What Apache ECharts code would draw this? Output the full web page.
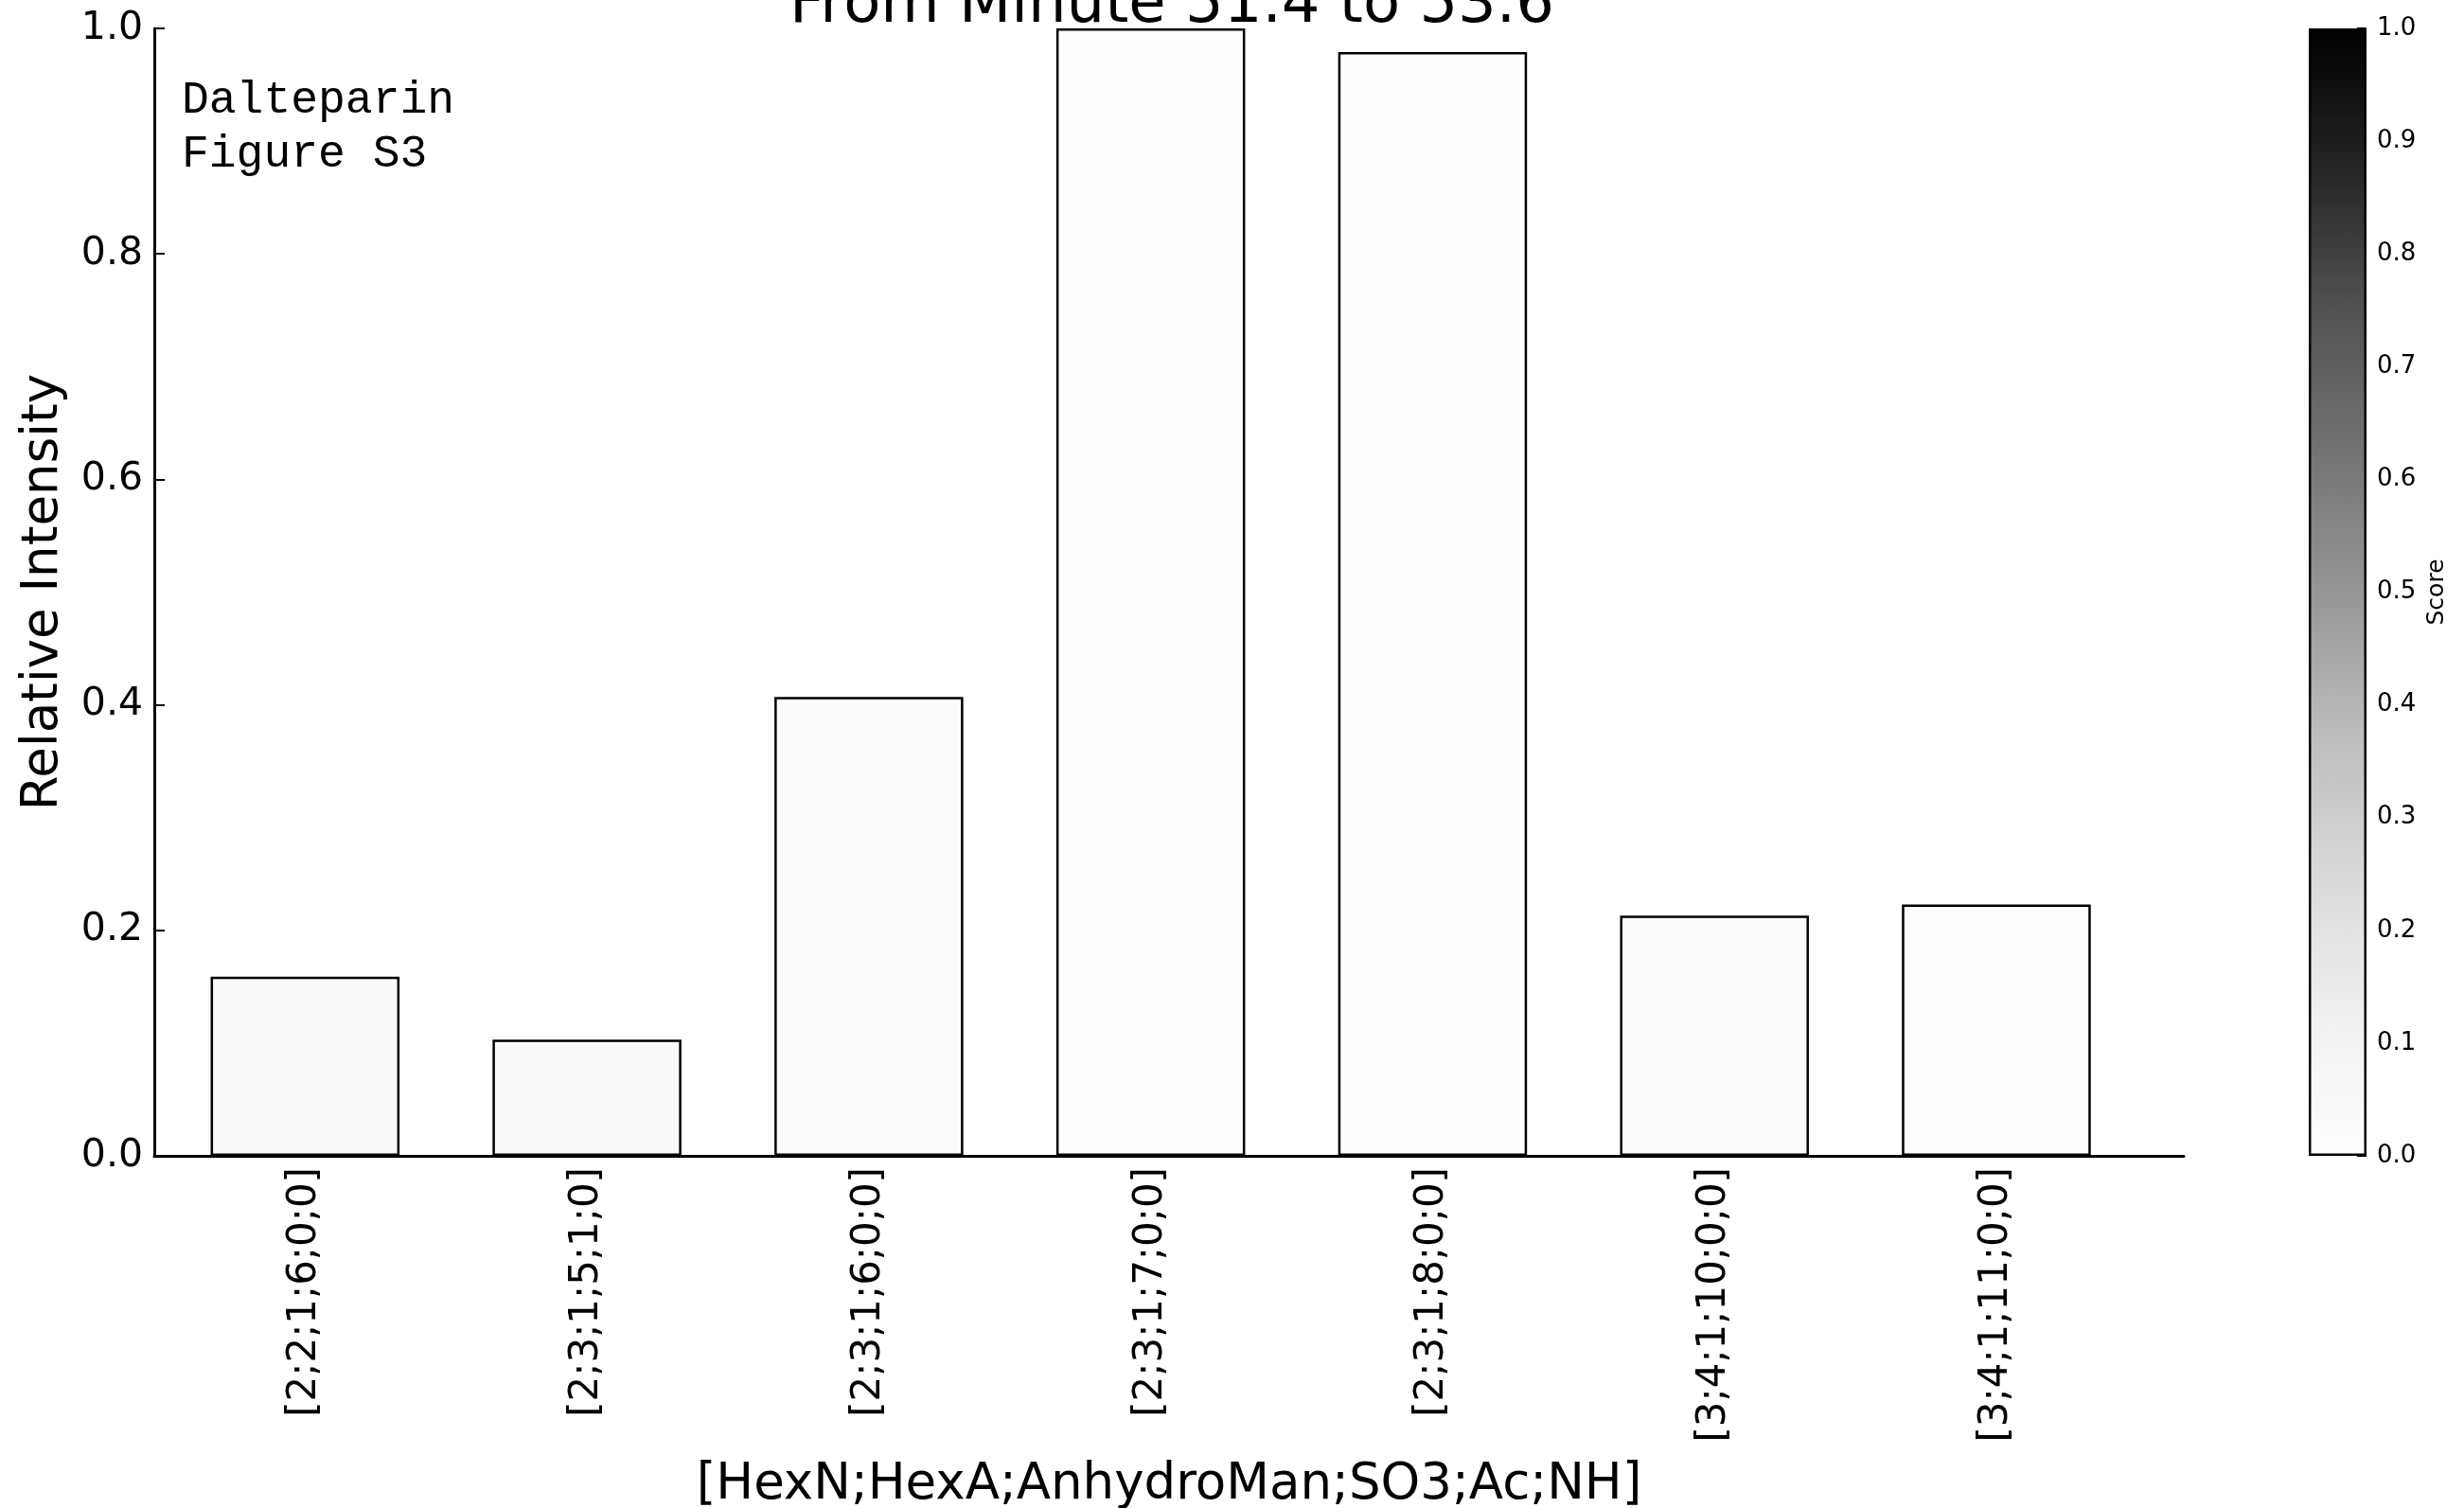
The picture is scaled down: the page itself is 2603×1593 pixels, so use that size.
<!DOCTYPE html>
<html>
<head>
<meta charset="utf-8">
<title>From Minute 51.4 to 53.6</title>
<script src="https://cdn.jsdelivr.net/npm/echarts@6/dist/echarts.min.js"></script>
<style>
  html, body { margin: 0; padding: 0; background: #ffffff; }
  #chart { width: 2603px; height: 1593px; }
</style>
</head>
<body>
<div id="chart"></div>
<script>
// Composition labels [HexN;HexA;AnhydroMan;SO3;Ac;NH]
const categories = [
  '[2;2;1;6;0;0]', '[2;3;1;5;1;0]', '[2;3;1;6;0;0]', '[2;3;1;7;0;0]',
  '[2;3;1;8;0;0]', '[3;4;1;10;0;0]', '[3;4;1;11;0;0]'
];
// Relative intensity of each composition
const intensity = [0.159, 0.103, 0.407, 1.0, 0.979, 0.213, 0.223];
// Score of each composition (drives the bar shade)
const score = [0.045, 0.045, 0.03, 0.01, 0.01, 0.025, 0.015];
// Colour scale ticks
const scoreTicks = [0, 0.1, 0.2, 0.3, 0.4, 0.5, 0.6, 0.7, 0.8, 0.9, 1.0];
const titleText = 'From Minute 51.4 to 53.6';
const noteLines = ['Dalteparin', 'Figure S3'];

// Greys colour ramp, low score = white, high score = black
const greys = ['#ffffff', '#f0f0f0', '#d9d9d9', '#bdbdbd', '#969696',
               '#737373', '#525252', '#252525', '#000000'];

// Each bar occupies [i, i + BAR_W] on the x scale; labels sit at the bar centre
const BAR_W = 0.67;
const center = i => i + BAR_W / 2;
const barRows = categories.map((c, i) => [center(i), intensity[i], score[i]]);
const labelPositions = categories.map((c, i) => center(i));

const FONT = 'DejaVu Sans';
const chart = echarts.init(document.getElementById('chart'), null, { renderer: 'canvas' });

const gradStops = greys.map((c, k) => ({ offset: 1 - k / (greys.length - 1), color: c }));

chart.setOption({
  animation: false,
  backgroundColor: '#ffffff',
  title: {
    text: titleText,
    left: 1233,
    textAlign: 'center',
    top: -31,
    textStyle: { fontFamily: FONT, fontSize: 64, fontWeight: 'normal', color: '#000' }
  },
  graphic: [{
    type: 'text',
    left: 192,
    top: 78,
    style: {
      text: noteLines.join('\n'),
      fontFamily: "'Courier New', 'Nimbus Mono PS', 'FreeMono', 'Liberation Mono', monospace",
      fontSize: 48,
      lineHeight: 57,
      fill: '#000'
    }
  }],
  grid: [
    { left: 163, top: 30, width: 2144, height: 1191, outerBoundsMode: 'none', containLabel: false },
    { left: 2439, top: 30, width: 61, height: 1191, outerBoundsMode: 'none', containLabel: false }
  ],
  visualMap: {
    type: 'continuous',
    show: false,
    min: 0,
    max: 1,
    dimension: 2,
    seriesIndex: 0,
    inRange: { color: greys }
  },
  xAxis: [{
    type: 'value',
    gridIndex: 0,
    min: -0.2,
    max: 7,
    name: '[HexN;HexA;AnhydroMan;SO3;Ac;NH]',
    nameLocation: 'middle',
    nameGap: 322,
    nameTextStyle: { fontFamily: FONT, fontSize: 53, color: '#000' },
    axisLine: { show: true, onZero: false, lineStyle: { color: '#000', width: 3 } },
    axisTick: { show: false },
    splitLine: { show: false },
    axisLabel: {
      customValues: labelPositions,
      rotate: 90,
      margin: 12,
      fontFamily: FONT,
      fontSize: 42,
      color: '#000',
      formatter: v => categories[Math.round(v - BAR_W / 2)]
    }
  }, {
    type: 'category',
    gridIndex: 1,
    data: ['score'],
    show: false
  }],
  yAxis: [{
    type: 'value',
    gridIndex: 0,
    min: 0,
    max: 1,
    interval: 0.2,
    name: 'Relative Intensity',
    nameLocation: 'middle',
    nameRotate: 90,
    nameGap: 90,
    nameTextStyle: { fontFamily: FONT, fontSize: 53, color: '#000' },
    axisLine: { show: true, onZero: false, lineStyle: { color: '#000', width: 3 } },
    axisTick: { show: true, inside: true, length: 11, lineStyle: { color: '#000', width: 2 } },
    splitLine: { show: false },
    axisLabel: {
      margin: 12,
      fontFamily: FONT,
      fontSize: 41,
      color: '#000',
      formatter: v => v.toFixed(1)
    }
  }, {
    type: 'value',
    gridIndex: 1,
    position: 'right',
    min: 0,
    max: 1,
    interval: 0.1,
    name: 'Score',
    nameLocation: 'middle',
    nameRotate: 90,
    nameGap: 62,
    nameTextStyle: { fontFamily: FONT, fontSize: 25, color: '#000' },
    axisLine: { show: false, onZero: false },
    axisTick: { show: true, inside: true, length: 10, lineStyle: { color: '#000', width: 2 } },
    splitLine: { show: false },
    axisLabel: {
      customValues: scoreTicks,
      margin: 11,
      fontFamily: FONT,
      fontSize: 26,
      color: '#000',
      formatter: v => v.toFixed(1)
    }
  }],
  series: [{
    type: 'bar',
    xAxisIndex: 0,
    yAxisIndex: 0,
    data: barRows,
    encode: { x: 0, y: 1 },
    barWidth: (BAR_W * 100) + '%',
    itemStyle: { borderColor: '#000', borderWidth: 2.5 },
    silent: true
  }, {
    type: 'bar',
    xAxisIndex: 1,
    yAxisIndex: 1,
    data: [1],
    barWidth: '100%',
    itemStyle: {
      color: new echarts.graphic.LinearGradient(0, 0, 0, 1, gradStops),
      borderColor: '#000',
      borderWidth: 2.5
    },
    silent: true
  }]
});
</script>
</body>
</html>
